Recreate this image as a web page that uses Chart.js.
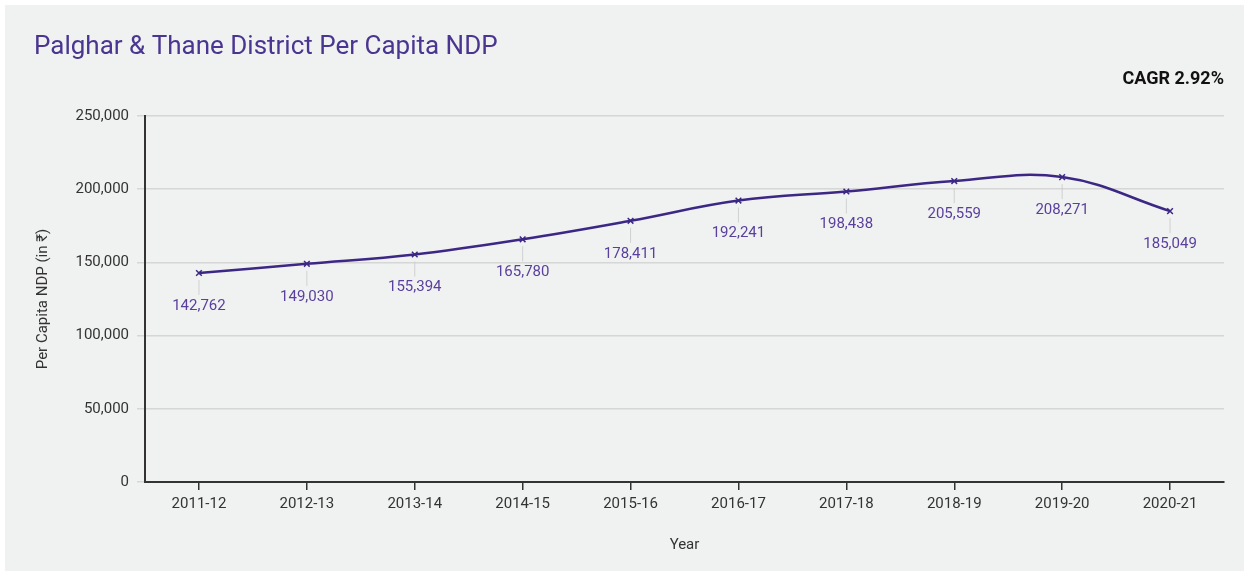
<!DOCTYPE html>
<html><head><meta charset="utf-8">
<script src="https://cdn.jsdelivr.net/npm/chart.js@4/dist/chart.umd.min.js"></script>
<style>html,body{margin:0;padding:0;background:#fff;}#c{display:block;}</style>
</head><body>
<canvas id="c" width="1249" height="576"></canvas>
<script>
const titleText = 'Palghar & Thane District Per Capita NDP';
const cagrText = 'CAGR 2.92%';
const years = ['2011-12','2012-13','2013-14','2014-15','2015-16','2016-17','2017-18','2018-19','2019-20','2020-21'];
const perCapitaNDP = [142762,149030,155394,165780,178411,192241,198438,205559,208271,185049];
const yTicks = [0,50000,100000,150000,200000,250000];

const FONT = 'Roboto, "Noto Sans", sans-serif';
const PURPLE = '#3d2785';
const LABEL = '#5a3f9c';

const decor = {
  id: 'decor',
  beforeDraw(chart) {
    const ctx = chart.ctx;
    ctx.save();
    ctx.fillStyle = '#f0f1f1';
    ctx.fillRect(5, 5, 1239, 566);
    ctx.restore();
  },
  afterDatasetsDraw(chart) {
    const ctx = chart.ctx;
    const meta = chart.getDatasetMeta(0);
    ctx.save();
    meta.data.forEach((pt, i) => {
      ctx.strokeStyle = 'rgba(200,200,200,0.8)';
      ctx.lineWidth = 1;
      ctx.beginPath();
      ctx.moveTo(pt.x, pt.y + 7);
      ctx.lineTo(pt.x, pt.y + 22);
      ctx.stroke();
      ctx.fillStyle = LABEL;
      ctx.font = '15px ' + FONT;
      ctx.textAlign = 'center';
      ctx.textBaseline = 'middle';
      ctx.fillText(perCapitaNDP[i].toLocaleString('en-US'), pt.x, pt.y + 33);
    });
    ctx.fillStyle = '#4a3590';
    ctx.font = '26px ' + FONT;
    ctx.textAlign = 'left';
    ctx.textBaseline = 'middle';
    ctx.fillText(titleText, 34, 47);
    ctx.fillStyle = '#111';
    ctx.font = 'bold 18px ' + FONT;
    ctx.textAlign = 'right';
    ctx.fillText(cagrText, 1224, 79);
    ctx.restore();
  }
};

new Chart(document.getElementById('c'), {
  type: 'line',
  data: {
    labels: years,
    datasets: [{
      data: perCapitaNDP,
      borderColor: PURPLE,
      backgroundColor: PURPLE,
      borderWidth: 2.5,
      tension: 0.4,
      pointStyle: 'crossRot',
      pointRadius: 4,
      pointBorderWidth: 1.5,
      pointBorderColor: PURPLE,
      fill: false
    }]
  },
  options: {
    responsive: false,
    animation: false,
    layout: { padding: { left: 0, right: 25, top: 116, bottom: 0 } },
    plugins: { legend: { display: false }, tooltip: { enabled: false }, title: { display: false } },
    scales: {
      x: {
        offset: true,
        grid: { display: true, drawOnChartArea: false, drawTicks: true, tickLength: 8, color: '#333', lineWidth: 1.5 },
        border: { display: true, color: '#333', width: 2 },
        ticks: { color: '#333', font: { family: FONT, size: 15 }, padding: 5, maxRotation: 0 },
        title: { display: true, text: 'Year', color: '#333', font: { family: FONT, size: 15 }, padding: { top: 0, bottom: 22 } },
        afterFit(s) { s.height = 94; }
      },
      y: {
        min: 0, max: 250000,
        afterBuildTicks(s) { s.ticks = yTicks.map(v => ({ value: v })); },
        grid: { color: '#d6d6d6', lineWidth: 1.5, tickLength: 8 },
        border: { display: true, color: '#333', width: 2 },
        ticks: { color: '#333', font: { family: FONT, size: 15 }, padding: 8, callback: v => v.toLocaleString('en-US') },
        title: { display: true, text: 'Per Capita NDP (in ₹)', color: '#333', font: { family: FONT, size: 15 }, padding: { top: 34, bottom: 0 } },
        afterFit(s) { s.width = 145; }
      }
    }
  },
  plugins: [decor]
});
</script>
</body></html>
